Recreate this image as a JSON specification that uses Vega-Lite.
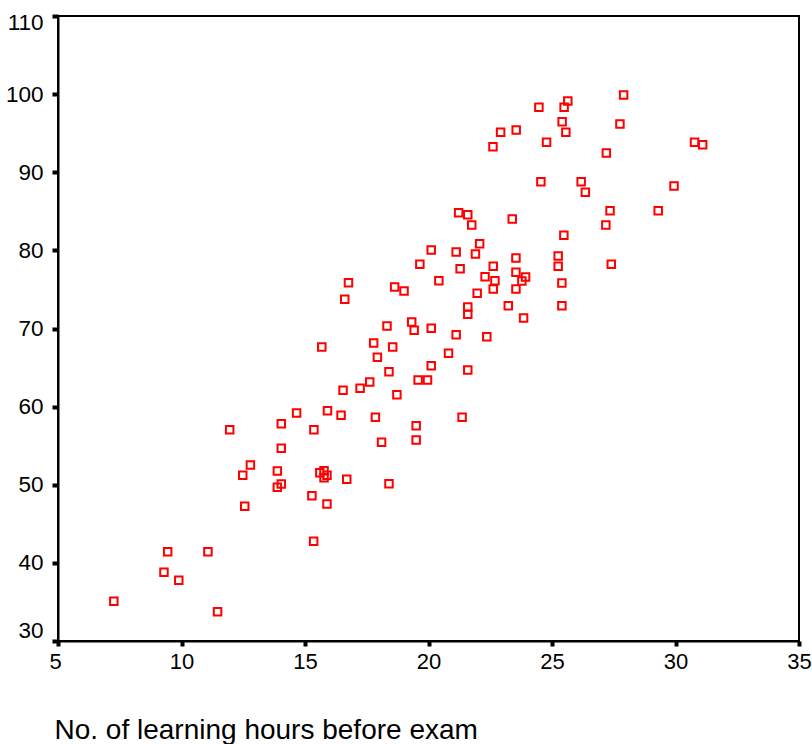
{
  "$schema": "https://vega.github.io/schema/vega-lite/v6.json",
  "width": 741,
  "height": 625,
  "autosize": {"type": "none"},
  "padding": {"left": 58, "top": 16, "right": 13, "bottom": 103},
  "background": "white",
  "config": {
    "view": {"stroke": "#000000", "strokeWidth": 2},
    "font": "Liberation Sans"
  },
  "data": {
    "values": [
      {"hours": 7.26, "score": 35.08},
      {"hours": 11.46, "score": 33.75},
      {"hours": 9.44, "score": 41.43},
      {"hours": 11.07, "score": 41.43},
      {"hours": 9.29, "score": 38.79},
      {"hours": 9.89, "score": 37.77},
      {"hours": 12.56, "score": 47.24},
      {"hours": 13.88, "score": 49.67},
      {"hours": 14.04, "score": 50.10},
      {"hours": 15.28, "score": 48.60},
      {"hours": 15.89, "score": 47.54},
      {"hours": 15.35, "score": 42.76},
      {"hours": 15.68, "score": 67.63},
      {"hours": 17.78, "score": 68.14},
      {"hours": 18.55, "score": 67.63},
      {"hours": 17.93, "score": 66.31},
      {"hours": 20.81, "score": 66.82},
      {"hours": 20.11, "score": 65.24},
      {"hours": 21.59, "score": 64.69},
      {"hours": 18.40, "score": 64.47},
      {"hours": 19.58, "score": 63.41},
      {"hours": 19.96, "score": 63.41},
      {"hours": 16.54, "score": 62.09},
      {"hours": 17.23, "score": 62.35},
      {"hours": 17.62, "score": 63.15},
      {"hours": 18.72, "score": 61.53},
      {"hours": 14.66, "score": 59.18},
      {"hours": 15.91, "score": 59.48},
      {"hours": 16.46, "score": 58.89},
      {"hours": 17.85, "score": 58.63},
      {"hours": 14.04, "score": 57.81},
      {"hours": 15.36, "score": 57.05},
      {"hours": 11.95, "score": 57.05},
      {"hours": 19.50, "score": 57.56},
      {"hours": 21.36, "score": 58.63},
      {"hours": 19.50, "score": 55.73},
      {"hours": 18.10, "score": 55.43},
      {"hours": 14.04, "score": 54.67},
      {"hours": 12.79, "score": 52.53},
      {"hours": 12.48, "score": 51.21},
      {"hours": 13.88, "score": 51.76},
      {"hours": 15.60, "score": 51.54},
      {"hours": 15.77, "score": 51.80},
      {"hours": 15.89, "score": 51.21},
      {"hours": 15.77, "score": 50.90},
      {"hours": 16.69, "score": 50.70},
      {"hours": 18.40, "score": 50.13},
      {"hours": 21.22, "score": 84.82},
      {"hours": 21.59, "score": 84.57},
      {"hours": 21.75, "score": 83.25},
      {"hours": 23.39, "score": 84.02},
      {"hours": 27.35, "score": 85.08},
      {"hours": 27.18, "score": 83.25},
      {"hours": 25.48, "score": 81.93},
      {"hours": 22.07, "score": 80.85},
      {"hours": 20.11, "score": 80.05},
      {"hours": 21.12, "score": 79.79},
      {"hours": 21.90, "score": 79.54},
      {"hours": 19.65, "score": 78.22},
      {"hours": 23.54, "score": 79.02},
      {"hours": 25.25, "score": 79.28},
      {"hours": 25.25, "score": 77.96},
      {"hours": 27.40, "score": 78.22},
      {"hours": 21.28, "score": 77.65},
      {"hours": 22.62, "score": 77.96},
      {"hours": 23.54, "score": 77.19},
      {"hours": 22.29, "score": 76.63},
      {"hours": 22.69, "score": 76.12},
      {"hours": 23.93, "score": 76.59},
      {"hours": 23.78, "score": 76.08},
      {"hours": 25.40, "score": 75.82},
      {"hours": 20.42, "score": 76.12},
      {"hours": 18.63, "score": 75.31},
      {"hours": 19.01, "score": 74.80},
      {"hours": 22.62, "score": 75.06},
      {"hours": 23.54, "score": 75.06},
      {"hours": 21.97, "score": 74.50},
      {"hours": 23.23, "score": 72.92},
      {"hours": 25.40, "score": 72.92},
      {"hours": 21.59, "score": 72.75},
      {"hours": 21.59, "score": 71.82},
      {"hours": 23.85, "score": 71.34},
      {"hours": 18.32, "score": 70.32},
      {"hours": 19.32, "score": 70.83},
      {"hours": 19.42, "score": 69.77},
      {"hours": 20.11, "score": 70.03},
      {"hours": 21.12, "score": 69.21},
      {"hours": 22.36, "score": 68.95},
      {"hours": 16.76, "score": 75.86},
      {"hours": 16.61, "score": 73.74},
      {"hours": 27.90, "score": 99.89},
      {"hours": 25.64, "score": 99.12},
      {"hours": 25.49, "score": 98.31},
      {"hours": 24.47, "score": 98.31},
      {"hours": 25.41, "score": 96.47},
      {"hours": 27.75, "score": 96.18},
      {"hours": 23.55, "score": 95.41},
      {"hours": 22.92, "score": 95.11},
      {"hours": 25.56, "score": 95.11},
      {"hours": 24.78, "score": 93.83},
      {"hours": 22.61, "score": 93.27},
      {"hours": 27.20, "score": 92.46},
      {"hours": 24.55, "score": 88.79},
      {"hours": 26.18, "score": 88.79},
      {"hours": 26.35, "score": 87.43},
      {"hours": 29.30, "score": 85.08},
      {"hours": 30.77, "score": 93.83},
      {"hours": 31.10, "score": 93.53},
      {"hours": 29.94, "score": 88.24}
    ]
  },
  "mark": {"type": "point", "shape": "square", "filled": false, "color": "#ff0000", "size": 56, "strokeWidth": 2, "opacity": 1},
  "encoding": {
    "x": {
      "field": "hours",
      "type": "quantitative",
      "scale": {"domain": [5, 35], "nice": false, "zero": false},
      "axis": {
        "values": [5, 10, 15, 20, 25, 30, 35],
        "grid": false,
        "domainColor": "#000000",
        "domainWidth": 2,
        "tickColor": "#000000",
        "tickSize": 5,
        "tickWidth": 4,
        "labelFlush": false,
        "labelFontSize": 22,
        "labelColor": "#000000",
        "labelPadding": 5,
        "labelOffset": {"condition": {"test": "datum.value == 5", "value": -3}, "value": 0},
        "labelFont": "Liberation Sans",
        "title": "No. of learning hours before exam",
        "titleFont": "Liberation Sans",
        "titleFontSize": 28,
        "titleFontWeight": "normal",
        "titleColor": "#000000",
        "titleAlign": "left",
        "titleAnchor": "start",
        "titleBaseline": "alphabetic",
        "titleX": -4,
        "titleY": 97
      }
    },
    "y": {
      "field": "score",
      "type": "quantitative",
      "scale": {"domain": [30, 110], "nice": false, "zero": false},
      "axis": {
        "values": [30, 40, 50, 60, 70, 80, 90, 100, 110],
        "grid": false,
        "domainColor": "#000000",
        "domainWidth": 2,
        "tickColor": "#000000",
        "tickSize": 6,
        "tickWidth": 4,
        "labelFlush": false,
        "labelBaseline": "middle",
        "labelOffset": {"condition": [{"test": "datum.value == 110", "value": 6}, {"test": "datum.value == 30", "value": -11}], "value": 0},
        "labelFontSize": 22.5,
        "labelColor": "#000000",
        "labelPadding": 9,
        "labelFont": "Liberation Sans",
        "title": null
      }
    }
  }
}
